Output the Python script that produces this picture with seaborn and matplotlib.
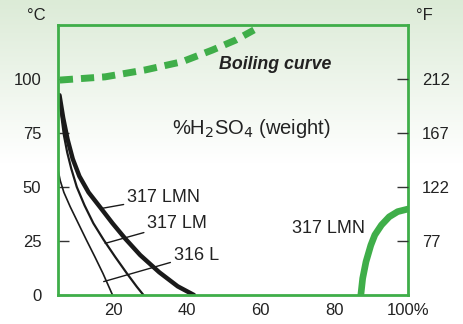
import numpy as np
import matplotlib
matplotlib.use("Agg")
import matplotlib.pyplot as plt
import matplotlib.colors as mcolors
import seaborn as sns

# curve data (% H2SO4, temperature in C)
pct_316l = [5.0, 5.6, 6.6, 8.3, 10.5, 12.7, 15.0, 17.2, 19.8]
temp_316l = [58, 53, 47.5, 40.9, 33.2, 25.5, 17.7, 10, 0]
pct_317lm = [5.4, 5.9, 6.6, 7.5, 8.6, 10.1, 12.2, 14.6, 17.4, 20.5, 23.7, 26.4, 28.2]
temp_317lm = [92.5, 83, 74, 66, 58.5, 50, 41.5, 33.2, 25.5, 17.7, 10, 3.8, 0]
pct_317lmn = [5.4, 6.4, 7.6, 9.0, 10.8, 13.3, 16.5, 19.8, 23.3, 27.3, 32.5, 37.5, 41.9]
temp_317lmn = [92.5, 82, 72, 63, 55, 47.5, 40.5, 33.2, 26, 18.5, 10.5, 4, 0]
pct_lmn_hi = [87.2, 87.7, 88.6, 89.9, 91, 92.8, 94.9, 97.2, 100]
temp_lmn_hi = [0, 7.7, 15.4, 23, 27.8, 32.4, 36.2, 38.6, 39.8]
pct_boil = [5.5, 17.8, 28.7, 38.7, 46.9, 53.2, 58.2]
temp_boil = [99.5, 101, 104.2, 108, 113.4, 118, 122.7]

left_ticks = [0, 25, 50, 75, 100]
right_ticks = [25, 50, 75, 100]
right_labels = ["77", "122", "167", "212"]
x_ticks = [20, 40, 60, 80, 100]
x_labels = ["20", "40", "60", "80", "100%"]

sns.set_style("white")
plt.rcParams["font.family"] = ["Liberation Sans", "DejaVu Sans"]
plt.rcParams["font.size"] = 12

green = "#3fae49"
dark = "#1a1a1a"
txt = "#222222"

fig = plt.figure(figsize=(4.64, 3.24), dpi=100)

# background gradient
bg = fig.add_axes([0, 0, 1, 1], zorder=-10)
cmap = mcolors.LinearSegmentedColormap.from_list("bg", ["#ffffff", "#ffffff", "#dcebd7"])
bg.imshow(np.linspace(0, 1, 256).reshape(-1, 1), aspect="auto", cmap=cmap, origin="lower", extent=[0, 1, 0, 1])
bg.axis("off")

ax = fig.add_axes([58 / 464, (324 - 295) / 324, 350 / 464, 270 / 324])
ax.patch.set_alpha(0)

sns.lineplot(x=pct_316l, y=temp_316l, ax=ax, color=dark, lw=1.2, sort=False)
sns.lineplot(x=pct_317lm, y=temp_317lm, ax=ax, color=dark, lw=1.6, sort=False)
sns.lineplot(x=pct_317lmn, y=temp_317lmn, ax=ax, color=dark, lw=3.2, sort=False)
sns.lineplot(x=pct_lmn_hi, y=temp_lmn_hi, ax=ax, color=green, lw=4.8, sort=False)
ax.plot(pct_boil, temp_boil, color=green, lw=5, dashes=(1.9, 1.15))

ax.set_xlim(5, 100)
ax.set_ylim(0, 125)
for s in ax.spines.values():
    s.set_color(green)
    s.set_linewidth(2)
    s.set_visible(True)

ax.set_yticks(left_ticks)
ax.set_xticks(x_ticks)
ax.set_xticklabels(x_labels)
ax.tick_params(direction="in", length=8, width=1, color="#333333", labelcolor=txt)
ax.tick_params(axis="y", pad=12)
ax.tick_params(axis="x", pad=6)

ax2 = ax.twinx()
ax2.set_ylim(0, 125)
ax2.set_yticks(right_ticks)
ax2.set_yticklabels(right_labels)
ax2.tick_params(direction="in", length=8, width=1, color="#333333", labelcolor=txt, pad=10)
for s in ax2.spines.values():
    s.set_visible(False)

fig.text(36 / 464, 1 - 16 / 324, "°C", ha="center", va="center", color=txt)
fig.text(424 / 464, 1 - 16 / 324, "°F", ha="center", va="center", color=txt)

ax.text(48.6, 106.5, "Boiling curve", fontsize=12.8, style="italic", weight="bold", color=txt, va="center")
ax.text(36, 77, "%H$_2$SO$_4$ (weight)", fontsize=14.5, color=txt, va="center")
ax.text(88.2, 31, "317 LMN", ha="right", va="center", fontsize=13, color=txt)

line_kw = dict(arrowstyle="-", color=dark, lw=1, shrinkA=0, shrinkB=0)
ax.annotate("317 LMN", xy=(16.9, 40.1), xytext=(23.7, 45.2), va="center", fontsize=13, color=txt, arrowprops=line_kw)
ax.annotate("317 LM", xy=(17.8, 23.9), xytext=(29.2, 33.2), va="center", fontsize=13, color=txt, arrowprops=line_kw)
ax.annotate("316 L", xy=(17.4, 6.2), xytext=(36.4, 18.5), va="center", fontsize=13, color=txt, arrowprops=line_kw)

fig.savefig("out.png", dpi=100)
